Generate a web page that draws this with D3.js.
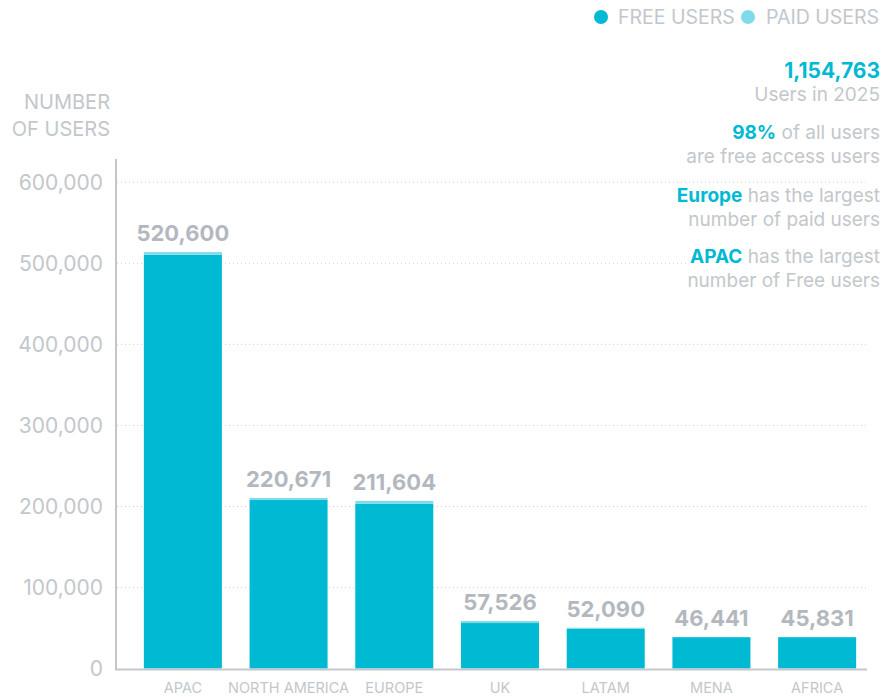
<!DOCTYPE html>
<html>
<head>
  <style>
    body { margin: 0; background: #fff; }
    svg text { font-family: 'Inter', 'Roboto', sans-serif; }
  </style>
</head>
<body>
  <svg id="chart" width="881" height="697"></svg>
  <script src="https://d3js.org/d3.v7.min.js"></script>
  <script>
    // data
    const regions = ['APAC', 'NORTH AMERICA', 'EUROPE', 'UK', 'LATAM', 'MENA', 'AFRICA']
    const freeUsers = [510600, 207900, 203200, 56100, 49100, 38700, 38700]
    const paidUsers = [3300, 2500, 3600, 2500, 1200, 200, 200]
    const totalLabels = ['520,600', '220,671', '211,604', '57,526', '52,090', '46,441', '45,831']
    const yTicks = [0, 100000, 200000, 300000, 400000, 500000, 600000]
    const notes = [
      [['1,154,763', true]], [['Users in 2025', false]],
      [['98%', true], [' of all users', false]], [['are free access users', false]],
      [['Europe', true], [' has the largest', false]], [['number of paid users', false]],
      [['APAC', true], [' has the largest', false]], [['number of Free users', false]]
    ]
    const noteY = [78, 101, 139, 163, 202, 226, 263, 287]

    const cFree = '#00b9d3', cPaid = '#80dbe9'
    const grey = '#c3c7cc', greyDark = '#b3b8bf'

    const svg = d3.select('#chart')
    const x = d3.scaleBand().domain(regions).range([130, 870]).paddingInner(0.262).paddingOuter(0.131)
    const y = d3.scaleLinear().domain([0, 600000]).range([668.5, 182.3])

    // grid
    svg.append('g').selectAll('line').data(yTicks.slice(1)).enter()
      .append('line')
      .attr('x1', 117).attr('x2', 869)
      .attr('y1', d => y(d)).attr('y2', d => y(d))
      .attr('stroke', '#cdd0d5').attr('stroke-width', 1).attr('stroke-dasharray', '1,3')

    // y tick labels
    svg.append('g').selectAll('text').data(yTicks).enter()
      .append('text')
      .attr('x', 103).attr('y', d => y(d))
      .attr('dy', '0.35em').attr('text-anchor', 'end')
      .attr('font-size', 21).attr('fill', grey)
      .text(d => d3.format(',')(d))

    // y title
    svg.append('text').attr('x', 110).attr('y', 109).attr('text-anchor', 'end')
      .attr('font-size', 20).attr('fill', grey).text('NUMBER')
    svg.append('text').attr('x', 110).attr('y', 136).attr('text-anchor', 'end')
      .attr('font-size', 20).attr('fill', grey).text('OF USERS')

    // bars
    const bars = svg.append('g').selectAll('g').data(regions).enter().append('g')
    bars.append('rect')
      .attr('x', d => x(d)).attr('width', x.bandwidth())
      .attr('y', (d, i) => y(freeUsers[i]))
      .attr('height', (d, i) => y(0) - y(freeUsers[i]))
      .attr('fill', cFree)
    bars.append('rect')
      .attr('x', d => x(d)).attr('width', x.bandwidth())
      .attr('y', (d, i) => y(freeUsers[i] + paidUsers[i]))
      .attr('height', (d, i) => y(freeUsers[i]) - y(freeUsers[i] + paidUsers[i]))
      .attr('fill', cPaid)
    bars.append('text')
      .attr('x', d => x(d) + x.bandwidth() / 2)
      .attr('y', (d, i) => y(freeUsers[i] + paidUsers[i]) - 11)
      .attr('text-anchor', 'middle')
      .attr('font-size', 22).attr('font-weight', 700).attr('fill', greyDark)
      .text((d, i) => totalLabels[i])
    bars.append('text')
      .attr('x', d => x(d) + x.bandwidth() / 2)
      .attr('y', 693)
      .attr('text-anchor', 'middle')
      .attr('font-size', 14.5).attr('fill', grey)
      .text(d => d)

    // axis lines
    svg.append('line').attr('x1', 116).attr('x2', 116).attr('y1', 159).attr('y2', 669.5)
      .attr('stroke', '#c3c7cc').attr('stroke-width', 2)
    svg.append('line').attr('x1', 115).attr('x2', 867).attr('y1', 669.5).attr('y2', 669.5)
      .attr('stroke', '#c3c7cc').attr('stroke-width', 2)

    // legend
    const legend = [['FREE USERS', cFree, 601, 618], ['PAID USERS', cPaid, 748, 766]]
    legend.forEach(l => {
      svg.append('circle').attr('cx', l[2]).attr('cy', 17).attr('r', 7).attr('fill', l[1])
      svg.append('text').attr('x', l[3]).attr('y', 17).attr('dy', '0.35em')
        .attr('font-size', 19.5).attr('fill', grey).text(l[0])
    })

    // notes on the right
    const ng = svg.append('g')
    notes.forEach((parts, i) => {
      const t = ng.append('text').attr('x', 880).attr('y', noteY[i])
        .attr('text-anchor', 'end').attr('font-size', 19)
      parts.forEach(p => {
        t.append('tspan').text(p[0])
          .attr('fill', p[1] ? cFree : grey)
          .attr('font-weight', p[1] ? 700 : 400)
          .attr('font-size', p[1] && i === 0 ? 21 : 19)
      })
      const b = t.node().getBBox()
      ng.insert('rect', 'text').attr('x', b.x - 2).attr('y', b.y).attr('width', b.width + 4)
        .attr('height', b.height).attr('fill', '#fff')
    })
  </script>
</body>
</html>
